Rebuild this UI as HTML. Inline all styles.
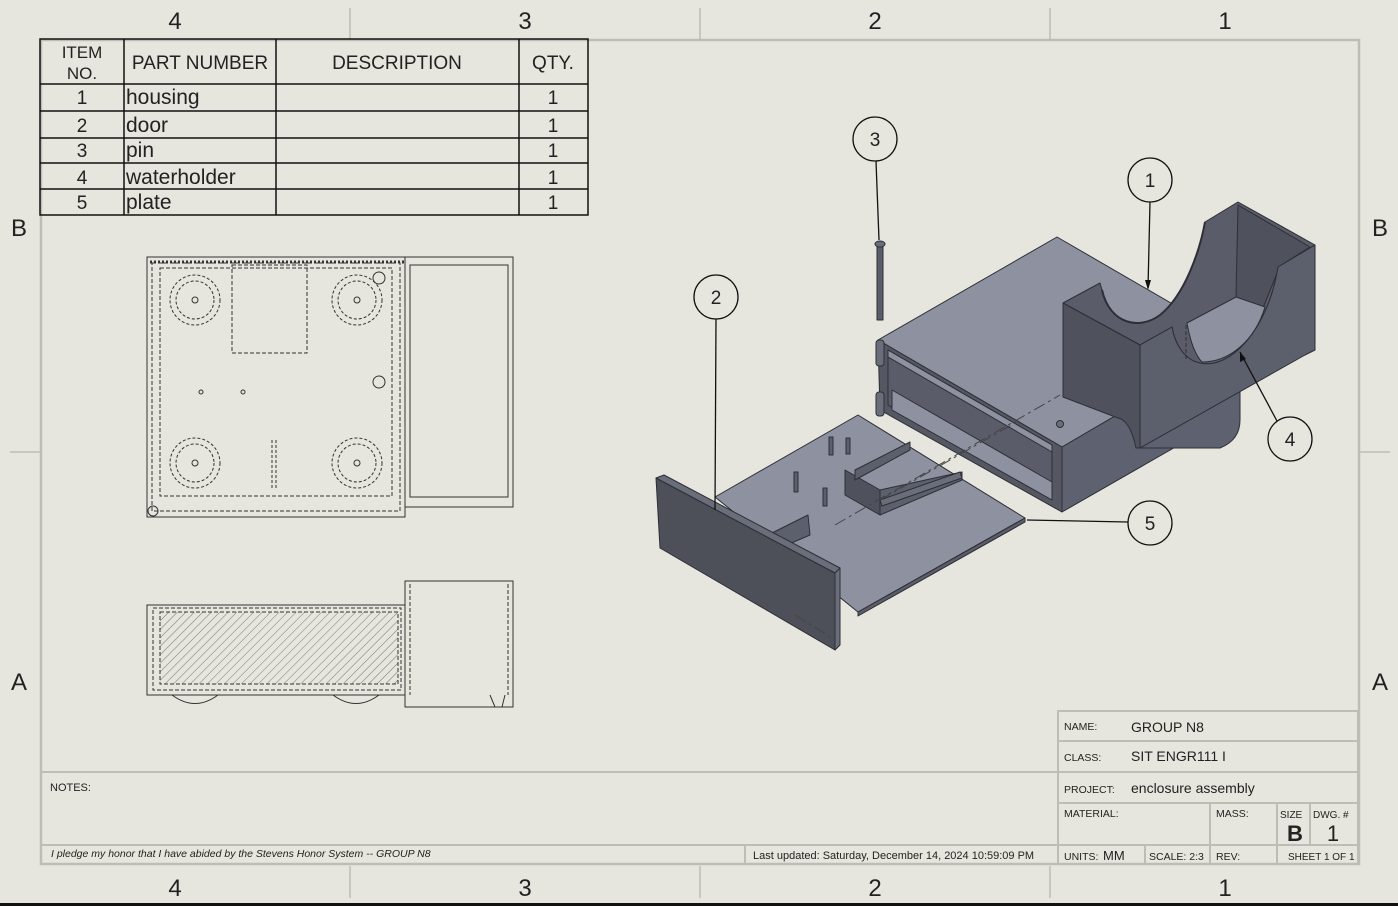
<!DOCTYPE html>
<html><head><meta charset="utf-8"><style>
html,body{margin:0;padding:0;background:#e6e6de;}
svg{display:block;}
text{font-family:"Liberation Sans",sans-serif;fill:#222;}
</style></head><body>
<svg width="1398" height="906" viewBox="0 0 1398 906" xmlns="http://www.w3.org/2000/svg">
<rect x="0" y="0" width="1398" height="906" fill="#e6e6de"/>
<line x1="0" y1="904.5" x2="1398" y2="904.5" stroke="#111" stroke-width="3"/>
<!-- frame -->
<rect x="41" y="40" width="1318" height="824" fill="none" stroke="#bdbdb8" stroke-width="2.5"/>
<g stroke="#bdbdb8" stroke-width="1.5">
<line x1="350" y1="8" x2="350" y2="39"/><line x1="700" y1="8" x2="700" y2="39"/><line x1="1050" y1="8" x2="1050" y2="39"/>
<line x1="350" y1="866" x2="350" y2="898"/><line x1="700" y1="866" x2="700" y2="898"/><line x1="1050" y1="866" x2="1050" y2="898"/>
<line x1="10" y1="452" x2="40" y2="452"/><line x1="1360" y1="452" x2="1390" y2="452"/>
</g>
<g font-size="24" text-anchor="middle">
<text x="175" y="29">4</text><text x="525" y="29">3</text><text x="875" y="29">2</text><text x="1225" y="29">1</text>
<text x="175" y="896">4</text><text x="525" y="896">3</text><text x="875" y="896">2</text><text x="1225" y="896">1</text>
<text x="19" y="236">B</text><text x="1380" y="236">B</text><text x="19" y="690">A</text><text x="1380" y="690">A</text>
</g>
<!-- BOM -->
<g stroke="#111" stroke-width="1.5" fill="none">
<rect x="40" y="39" width="548" height="176"/>
<line x1="124" y1="39" x2="124" y2="215"/><line x1="276" y1="39" x2="276" y2="215"/><line x1="519" y1="39" x2="519" y2="215"/>
<line x1="40" y1="84" x2="588" y2="84"/><line x1="40" y1="111" x2="588" y2="111"/><line x1="40" y1="138" x2="588" y2="138"/><line x1="40" y1="163" x2="588" y2="163"/><line x1="40" y1="189" x2="588" y2="189"/>
</g>
<g font-size="19" fill="#222">
<text x="82" y="58" text-anchor="middle" font-size="17">ITEM</text><text x="82" y="79" text-anchor="middle" font-size="17">NO.</text>
<text x="200" y="69" text-anchor="middle">PART NUMBER</text><text x="397" y="69" text-anchor="middle">DESCRIPTION</text><text x="553" y="69" text-anchor="middle">QTY.</text>
<text x="82" y="104" text-anchor="middle">1</text><text x="126" y="104" font-size="21">housing</text><text x="553" y="104" text-anchor="middle">1</text>
<text x="82" y="132" text-anchor="middle">2</text><text x="126" y="132" font-size="21">door</text><text x="553" y="132" text-anchor="middle">1</text>
<text x="82" y="157" text-anchor="middle">3</text><text x="126" y="157" font-size="21">pin</text><text x="553" y="157" text-anchor="middle">1</text>
<text x="82" y="184" text-anchor="middle">4</text><text x="126" y="184" font-size="21">waterholder</text><text x="553" y="184" text-anchor="middle">1</text>
<text x="82" y="209" text-anchor="middle">5</text><text x="126" y="209" font-size="21">plate</text><text x="553" y="209" text-anchor="middle">1</text>
</g>
<!-- top view -->
<g fill="none" stroke="#333" stroke-width="1">
<rect x="147" y="257" width="258" height="260"/>
<rect x="152" y="263" width="248" height="248" stroke-dasharray="4,2"/>
<rect x="160" y="268" width="232" height="228" stroke-dasharray="4,2"/>
<rect x="405" y="257" width="108" height="250"/>
<rect x="410" y="265" width="98" height="232"/>
<line x1="150" y1="262" x2="405" y2="262" stroke-dasharray="2,2" stroke-width="3"/>
<rect x="232" y="265" width="75" height="88" stroke-dasharray="4,2"/>
<g stroke-dasharray="3,2">
<circle cx="195" cy="300" r="25"/><circle cx="195" cy="300" r="19"/>
<circle cx="357" cy="300" r="25"/><circle cx="357" cy="300" r="19"/>
<circle cx="195" cy="463" r="25"/><circle cx="195" cy="463" r="19"/>
<circle cx="357" cy="463" r="25"/><circle cx="357" cy="463" r="19"/>
<line x1="272" y1="440" x2="272" y2="490"/><line x1="276" y1="440" x2="276" y2="490"/>
</g>
<circle cx="195" cy="300" r="3"/><circle cx="357" cy="300" r="3"/><circle cx="195" cy="463" r="3"/><circle cx="357" cy="463" r="3"/>
<circle cx="379" cy="382" r="6"/><circle cx="379" cy="278" r="6"/><circle cx="201" cy="392" r="2"/><circle cx="243" cy="392" r="2"/>
<circle cx="153" cy="511" r="5"/>
</g>
<!-- front view -->
<defs><pattern id="h" width="6" height="6" patternUnits="userSpaceOnUse" patternTransform="rotate(45)"><line x1="0" y1="0" x2="0" y2="6" stroke="#777" stroke-width="1"/></pattern></defs>
<g fill="none" stroke="#333" stroke-width="1">
<rect x="160" y="612" width="238" height="72" fill="url(#h)" stroke-dasharray="4,2"/>
<rect x="147" y="605" width="258" height="90"/>
<rect x="153" y="608" width="248" height="82" stroke-dasharray="4,2"/>
<rect x="405" y="581" width="108" height="126"/>
<line x1="410" y1="584" x2="410" y2="695" stroke-dasharray="4,2"/>
<line x1="508" y1="584" x2="508" y2="695" stroke-dasharray="4,2"/>
<path d="M172 695 Q195 712 218 695"/><path d="M333 695 Q356 712 379 695"/>
<path d="M490 695 l5 12 M505 695 l-3 12"/>
</g>
<!-- isometric: housing -->
<g stroke="#2d2f36" stroke-width="1" stroke-linejoin="round">
<polygon points="878,340 1057,237 1240,343 1062,447" fill="#8e91a0"/>
<polygon points="1062,447 1240,343 1240,410 1062,512" fill="#5e6170"/>
<path d="M1140,440 L1240,382 L1240,420 Q1240,440 1220,448 L1140,448 Z" fill="#5e6170"/>
<polygon points="878,340 1062,447 1062,512 880,410" fill="#555863"/>
<polygon points="888,350 1052,445 1052,500 888,405" fill="#5a5d69"/>
<polygon points="892,390 1052,482 1052,500 892,410" fill="#8e91a0"/>
<polygon points="888,350 1052,445 1052,452 888,357" fill="#8e91a0"/>
<rect x="876" y="340" width="8" height="26" rx="3" fill="#6a6d7a"/>
<rect x="876" y="392" width="8" height="24" rx="3" fill="#6a6d7a"/>
<circle cx="1060" cy="424" r="3.5" fill="#6a6d7a"/>
<!-- waterholder -->
<path d="M1063,303 L1100,283 L1102,290 C1110,325 1140,330 1160,315 C1185,295 1200,250 1205,222 L1238,202 L1315,245 L1278,267 C1268,330 1230,370 1200,363 C1185,360 1175,345 1172,327 L1140,345 Z" fill="#5a5d69"/>
<polygon points="1238,205 1310,247 1280,266 1263,308 1236,297" fill="#4f525c"/>
<path d="M1187,323 L1236,297 L1265,307 C1255,340 1230,362 1202,362 C1195,355 1190,340 1187,323 Z" fill="#8e91a0"/>
<path d="M1140,345 L1172,327 C1175,345 1185,360 1200,363 C1230,370 1268,330 1278,267 L1315,245 L1315,350 L1305,355 L1140,448 Z" fill="#5c5f6c"/>
<path d="M1063,303 L1140,345 L1140,448 L1136,448 Q1130,420 1118,418 L1063,397 Z" fill="#4f525c"/>
<path d="M1102,290 C1110,325 1140,330 1160,315 C1185,295 1200,250 1205,222" fill="none" stroke-width="2"/>
<line x1="1186" y1="325" x2="1186" y2="360" stroke-dasharray="4,2" fill="none"/>
<!-- pin -->
<rect x="877" y="244" width="6" height="76" fill="#5a5d69"/>
<ellipse cx="880" cy="244" rx="5" ry="3" fill="#6a6d7a"/>
<!-- plate -->
<polygon points="715,497 858,415 1025,518 858,612" fill="#8e91a0"/>
<polygon points="858,612 1025,518 1025,522 858,616" fill="#5a5d69"/>
<!-- tray -->
<polygon points="845,470 880,490 880,515 845,495" fill="#4f525c"/>
<polygon points="880,490 962,472 962,480 880,515" fill="#5c5f6c"/>
<polygon points="855,470 910,442 910,450 855,480" fill="#5c5f6c"/>
<polygon points="880,500 960,472 962,478 882,506" fill="#6a6d7a"/>
<rect x="829" y="437" width="4" height="18" fill="#5c5f6c"/><rect x="846" y="438" width="4" height="16" fill="#5c5f6c"/>
<rect x="794" y="472" width="4" height="20" fill="#5c5f6c"/><rect x="823" y="488" width="4" height="18" fill="#5c5f6c"/>
<polygon points="772,533 808,515 810,535 775,550" fill="#5c5f6c"/>
<!-- door -->
<polygon points="656,478 835,573 835,650 660,548" fill="#4e5059"/>
<polygon points="656,478 664,475 840,568 835,573" fill="#6a6d7a"/>
<polygon points="835,573 840,568 840,645 835,650" fill="#6a6d7a"/>
</g>
<g stroke="#444" stroke-width="1" stroke-dasharray="12,4,3,4" fill="none">
<line x1="835" y1="525" x2="1060" y2="395"/>
<line x1="880" y1="500" x2="1020" y2="420"/>
<line x1="795" y1="615" x2="835" y2="640"/>
</g>
<!-- balloons -->
<g fill="none" stroke="#111" stroke-width="1.3">
<circle cx="875" cy="139" r="22"/><circle cx="1150" cy="180" r="22"/><circle cx="716" cy="297" r="22"/><circle cx="1290" cy="439" r="22"/><circle cx="1150" cy="523" r="22"/>
<line x1="876" y1="161" x2="879" y2="240"/>
<line x1="1150" y1="202" x2="1148" y2="288"/>
<line x1="716" y1="319" x2="715" y2="510"/>
<line x1="1277" y1="421" x2="1240" y2="352"/>
<line x1="1128" y1="522" x2="1027" y2="520"/>
</g>
<polygon points="1148,290 1145,280 1151,280" fill="#111"/>
<polygon points="1240,352 1240,362 1246,359" fill="#111"/>
<g font-size="19" text-anchor="middle" fill="#222">
<text x="875" y="146">3</text><text x="1150" y="187">1</text><text x="716" y="304">2</text><text x="1290" y="446">4</text><text x="1150" y="530">5</text>
</g>
<!-- notes / title block -->
<g stroke="#bdbdb8" stroke-width="2" fill="none">
<line x1="41" y1="772" x2="1058" y2="772"/>
<line x1="41" y1="845" x2="1058" y2="845"/>
<line x1="745" y1="845" x2="745" y2="864"/>
<rect x="1058" y="711" width="300" height="153"/>
<line x1="1058" y1="741" x2="1358" y2="741"/><line x1="1058" y1="772" x2="1358" y2="772"/><line x1="1058" y1="803" x2="1358" y2="803"/><line x1="1058" y1="845" x2="1358" y2="845"/>
<line x1="1210" y1="803" x2="1210" y2="864"/><line x1="1277" y1="803" x2="1277" y2="864"/><line x1="1310" y1="803" x2="1310" y2="845"/><line x1="1145" y1="845" x2="1145" y2="864"/>
</g>
<g fill="#222">
<text x="50" y="791" font-size="11">NOTES:</text>
<text x="51" y="857" font-size="10.5" font-style="italic">I pledge my honor that I have abided by the Stevens Honor System -- GROUP N8</text>
<text x="753" y="859" font-size="11">Last updated:  Saturday, December 14, 2024 10:59:09 PM</text>
<text x="1064" y="730" font-size="10.5">NAME:</text><text x="1131" y="732" font-size="14">GROUP N8</text>
<text x="1064" y="761" font-size="10.5">CLASS:</text><text x="1131" y="761" font-size="14">SIT ENGR111 I</text>
<text x="1064" y="793" font-size="10.5">PROJECT:</text><text x="1131" y="793" font-size="14">enclosure assembly</text>
<text x="1064" y="817" font-size="10.5">MATERIAL:</text><text x="1216" y="817" font-size="10.5">MASS:</text>
<text x="1280" y="818" font-size="10">SIZE</text><text x="1313" y="818" font-size="10">DWG. #</text>
<text x="1295" y="841" font-size="22" font-weight="bold" text-anchor="middle">B</text><text x="1333" y="841" font-size="22" text-anchor="middle">1</text>
<text x="1064" y="860" font-size="10.5">UNITS:</text><text x="1103" y="860" font-size="13">MM</text>
<text x="1149" y="860" font-size="10.5">SCALE: 2:3</text><text x="1216" y="860" font-size="10.5">REV:</text>
<text x="1288" y="860" font-size="10">SHEET 1 OF 1</text>
</g>
</svg>
</body></html>
